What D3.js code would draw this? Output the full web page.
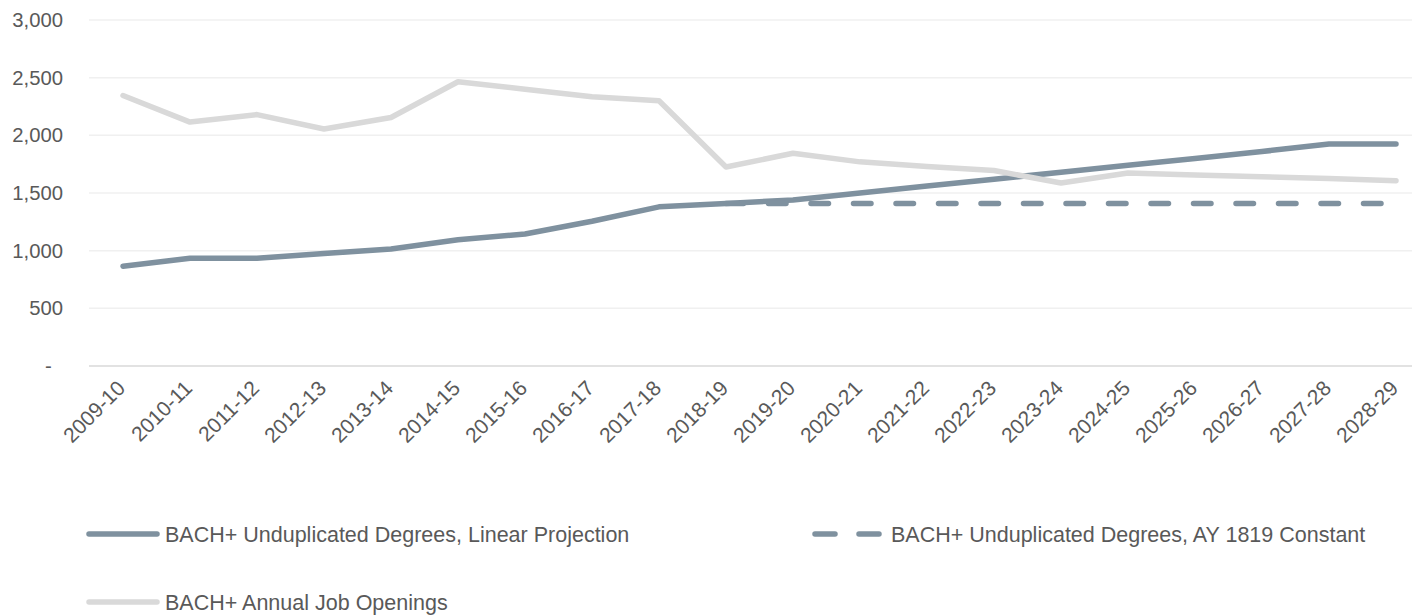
<!DOCTYPE html>
<html>
<head>
<meta charset="utf-8">
<script src="https://cdn.jsdelivr.net/npm/d3@7/dist/d3.min.js"></script>
<style>
  html, body { margin: 0; padding: 0; background: #ffffff; }
  svg { display: block; font-family: "Liberation Sans", Arial, sans-serif; }
</style>
</head>
<body>
<svg id="chart" width="1412" height="615"></svg>
<script>
const categories = ["2009-10","2010-11","2011-12","2012-13","2013-14","2014-15","2015-16","2016-17","2017-18","2018-19",
                    "2019-20","2020-21","2021-22","2022-23","2023-24","2024-25","2025-26","2026-27","2027-28","2028-29"];
const linearProjection = [865, 935, 935, 975, 1015, 1095, 1145, 1255, 1380, 1410,
                          1440, 1500, 1560, 1620, 1680, 1740, 1800, 1860, 1925, 1925];
const constantAY1819 = [null, null, null, null, null, null, null, null, null, 1410,
                        1410, 1410, 1410, 1410, 1410, 1410, 1410, 1410, 1410, 1410];
const jobOpenings = [2345, 2115, 2180, 2055, 2155, 2465, 2400, 2335, 2300, 1725,
                     1845, 1770, 1730, 1695, 1587, 1674, 1655, 1640, 1625, 1607];
const yTicks = [0, 500, 1000, 1500, 2000, 2500, 3000];
const seriesNames = ["BACH+ Unduplicated Degrees, Linear Projection",
                     "BACH+ Unduplicated Degrees, AY 1819 Constant",
                     "BACH+ Annual Job Openings"];

const svg = d3.select("#chart");
const plotLeft = 89, plotRight = 1412;
const x = d3.scalePoint().domain(categories).range([123, 1396]);
const y = d3.scaleLinear().domain([0, 3000]).range([366, 20]);

const textColor = "#595959";
const darkLine = "#7f919f";
const lightLine = "#d9d9d9";

// gridlines
svg.append("g").selectAll("line").data(yTicks.filter(d => d > 0)).join("line")
  .attr("x1", plotLeft).attr("x2", plotRight)
  .attr("y1", d => y(d)).attr("y2", d => y(d))
  .attr("stroke", "#f0f0f0").attr("stroke-width", 1.5);

// baseline axis
svg.append("line").attr("x1", plotLeft).attr("x2", plotRight)
  .attr("y1", y(0)).attr("y2", y(0))
  .attr("stroke", "#d9d9d9").attr("stroke-width", 1.5);

// y labels
const fmt = d3.format(",");
svg.append("g").selectAll("text").data(yTicks).join("text")
  .attr("x", 63).attr("y", d => y(d)).attr("dy", "0.35em")
  .attr("text-anchor", "end").attr("fill", textColor).attr("font-size", 20.3)
  .text(d => d === 0 ? "-\u00A0\u00A0" : fmt(d));

// x labels
svg.append("g").selectAll("text").data(categories).join("text")
  .attr("transform", d => `translate(${x(d) - 7},${379}) rotate(-45)`)
  .attr("text-anchor", "end").attr("dy", "0.7em")
  .attr("fill", textColor).attr("font-size", 21)
  .text(d => d);

const line = d3.line()
  .defined(d => d.v != null)
  .x(d => x(d.c)).y(d => y(d.v));

const mk = arr => categories.map((c, i) => ({c, v: arr[i]}));

svg.append("path").datum(mk(linearProjection)).attr("d", line)
  .attr("fill", "none").attr("stroke", darkLine).attr("stroke-width", 5.5)
  .attr("stroke-linecap", "round").attr("stroke-linejoin", "round");

svg.append("path").datum(mk(constantAY1819)).attr("d", line)
  .attr("fill", "none").attr("stroke", darkLine).attr("stroke-width", 5.5)
  .attr("stroke-linecap", "round").attr("stroke-dasharray", "17.5,25");

svg.append("path").datum(mk(jobOpenings)).attr("d", line)
  .attr("fill", "none").attr("stroke", lightLine).attr("stroke-width", 5.5)
  .attr("stroke-linecap", "round").attr("stroke-linejoin", "round");

// legend
const legend = [
  {name: seriesNames[0], x: 87, y: 534, color: darkLine},
  {name: seriesNames[1], x: 812, y: 534, color: darkLine},
  {name: seriesNames[2], x: 87, y: 602, color: lightLine}
];
legend.forEach((l, i) => {
  const g = svg.append("g");
  if (i === 1) {
    g.append("path").attr("d", `M${l.x + 3},${l.y}H${l.x + 23}M${l.x + 47},${l.y}H${l.x + 67}`)
      .attr("stroke", l.color).attr("stroke-width", 5.5).attr("stroke-linecap", "round");
    g.append("text").attr("x", l.x + 79).attr("y", l.y).attr("dy", "0.35em")
      .attr("fill", textColor).attr("font-size", 21.5).text(l.name);
  } else {
    g.append("line").attr("x1", l.x + 2).attr("x2", l.x + 70).attr("y1", l.y).attr("y2", l.y)
      .attr("stroke", l.color).attr("stroke-width", 5.5).attr("stroke-linecap", "round");
    g.append("text").attr("x", l.x + 78).attr("y", l.y).attr("dy", "0.35em")
      .attr("fill", textColor).attr("font-size", 21.5).text(l.name);
  }
});
</script>
</body>
</html>
